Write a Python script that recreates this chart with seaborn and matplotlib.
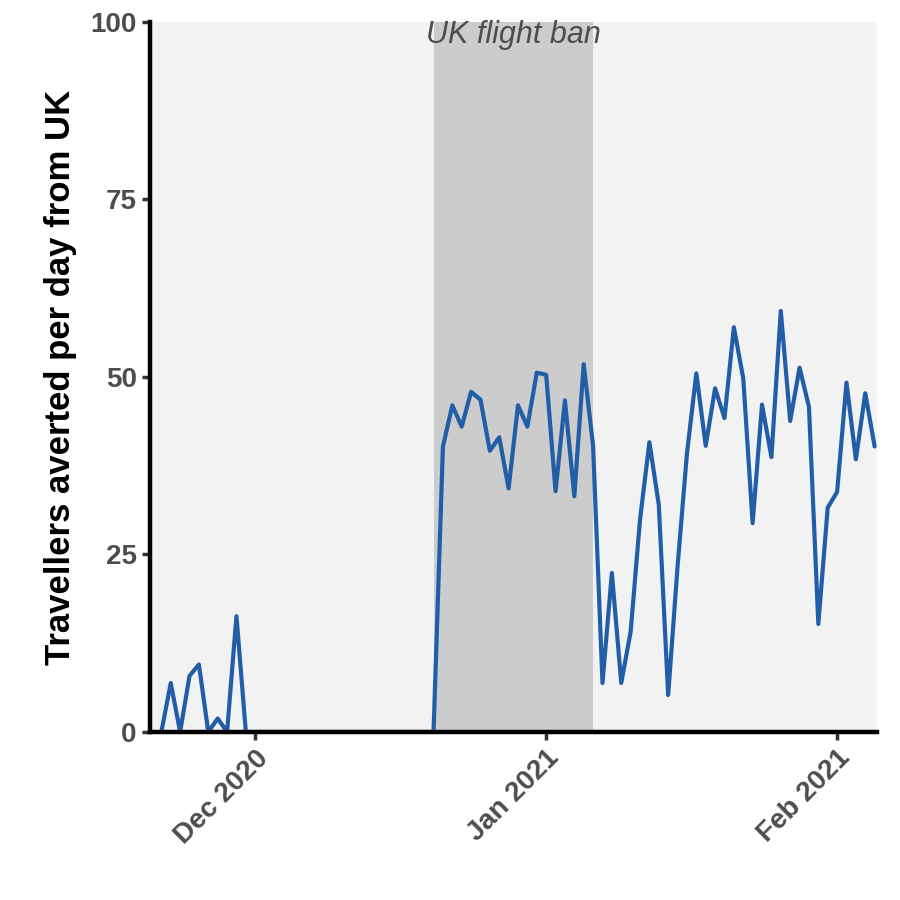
import pandas as pd
import numpy as np
import matplotlib
matplotlib.use("Agg")
import matplotlib.pyplot as plt
import matplotlib.dates as mdates
import seaborn as sns

# daily travellers averted, 21 Nov 2020 .. 5 Feb 2021
early = [0, 6.9, 0, 7.9, 9.5, 0, 1.9, 0, 16.3, 0]            # 21 Nov - 30 Nov
dec_zero = [0] * 20                                          # 1 Dec - 20 Dec
ban = [40.2, 46, 43, 47.9, 46.8, 39.6, 41.5, 34.3, 46, 43, 50.6,   # 21 Dec - 31 Dec
       50.3, 33.9, 46.7, 33.2, 51.8, 40.3]                          # 1 Jan - 6 Jan
after = [6.9, 22.4, 6.9, 14.1, 29.9, 40.8, 32, 5.2, 23.3, 39.2, 50.5,
         40.3, 48.4, 44.2, 57, 49.8, 29.4, 46.1, 38.7, 59.3, 43.8, 51.3,
         45.8, 15.2, 31.6,                                          # 7 Jan - 31 Jan
         33.8, 49.2, 38.4, 47.7, 40.2]                              # 1 Feb - 5 Feb
values = early + dec_zero + ban + after
dates = pd.date_range("2020-11-21", periods=len(values), freq="D")
df = pd.DataFrame({"date": dates, "averted": values})

ban_start = pd.Timestamp("2020-12-20")
ban_end = pd.Timestamp("2021-01-06")

sns.set_style("ticks")
plt.rcParams["font.family"] = ["Liberation Sans", "DejaVu Sans"]
fig = plt.figure(figsize=(9, 9), dpi=100)
ax = fig.add_axes([0.1667, 0.1867, 0.8073, 0.789])
ax.set_facecolor("#F2F2F2")

ax.axvspan(ban_start, ban_end, color="#CCCCCC", zorder=0, lw=0)
sns.lineplot(data=df, x="date", y="averted", ax=ax, color="#225EA8", linewidth=3, zorder=2)

ax.text(ban_start + (ban_end - ban_start) / 2, 98.2, "UK flight ban", ha="center", va="center",
        fontsize=22, style="italic", color="#4D4D4D")

ax.set_xlim(pd.Timestamp("2020-11-19 19:00"), pd.Timestamp("2021-02-05 05:00"))
ax.set_ylim(0, 100)
ax.set_yticks([0, 25, 50, 75, 100])
ax.xaxis.set_major_locator(mdates.MonthLocator())
ax.xaxis.set_major_formatter(mdates.DateFormatter("%b %Y"))

for s in ["top", "right"]:
    ax.spines[s].set_visible(False)
for s in ["left", "bottom"]:
    ax.spines[s].set_linewidth(3.2)
    ax.spines[s].set_color("black")
    ax.spines[s].set_zorder(5)

ax.tick_params(axis="both", length=6, width=2.5, color="#333333", labelcolor="#4D4D4D", labelsize=20)
for lab in ax.get_xticklabels() + ax.get_yticklabels():
    lab.set_fontweight("bold")
for lab in ax.get_xticklabels():
    lab.set_rotation(45)
    lab.set_ha("right")
    lab.set_rotation_mode("anchor")

ax.set_xlabel("")
ax.set_ylabel("Travellers averted per day from UK", fontsize=25, fontweight="bold", color="black", labelpad=10)

fig.savefig("out.png", dpi=100)
